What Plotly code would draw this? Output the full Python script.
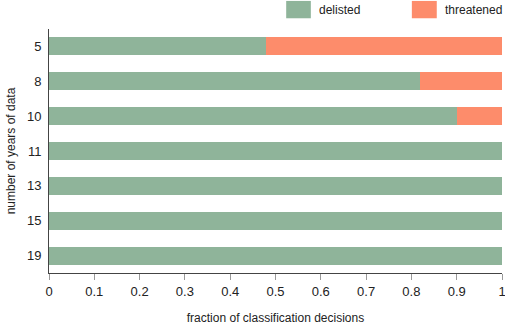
import plotly.graph_objects as go

# Years of data used for each classification run
years = ["5", "8", "10", "11", "13", "15", "19"]
# Fraction of decisions per outcome
delisted = [0.48, 0.82, 0.90, 1.0, 1.0, 1.0, 1.0]
threatened = [0.52, 0.18, 0.10, 0.0, 0.0, 0.0, 0.0]

series_names = ["delisted", "threatened"]
colors = ["#8fb49a", "#fd8c6b"]
x_ticks = [0, 0.1, 0.2, 0.3, 0.4, 0.5, 0.6, 0.7, 0.8, 0.9, 1]

font_family = "Liberation Sans, Arial, sans-serif"

fig = go.Figure()
for name, vals, col in zip(series_names, [delisted, threatened], colors):
    fig.add_trace(go.Bar(
        y=years, x=vals, orientation="h", name=name,
        marker=dict(color=col, line=dict(width=0)),
        width=0.52, showlegend=False,
    ))

# Legend drawn as large swatches with labels
legend_pos = [(0.5236, 0.578, 0.592), (0.801, 0.856, 0.870)]
for (x0, x1, tx), name, col in zip(legend_pos, series_names, colors):
    fig.add_shape(type="rect", xref="paper", yref="paper",
                  x0=x0, x1=x1, y0=1.044, y1=1.115,
                  fillcolor=col, line=dict(width=0))
    fig.add_annotation(xref="paper", yref="paper", x=tx, y=1.078,
                       text=name, showarrow=False, xanchor="left",
                       yanchor="middle",
                       font=dict(family=font_family, size=12, color="#222"))

fig.update_layout(
    width=505, height=327,
    margin=dict(l=48.5, r=3, t=29, b=54),
    barmode="stack",
    plot_bgcolor="white", paper_bgcolor="white",
    font=dict(family=font_family, size=13, color="#222"),
    xaxis=dict(
        range=[0, 1], tickvals=x_ticks,
        ticktext=[f"{v:g}" for v in x_ticks],
        ticklabeloverflow="allow", automargin=False,
        showgrid=False, zeroline=False,
        showline=True, linecolor="#444", linewidth=1,
        ticks="outside", ticklen=6, tickcolor="#999",
        title=dict(text="fraction of classification decisions",
                   font=dict(size=12), standoff=16),
    ),
    yaxis=dict(
        categoryorder="array", categoryarray=years,
        autorange="reversed", automargin=False,
        showgrid=False, zeroline=False,
        showline=True, linecolor="#444", linewidth=1,
        ticks="", ticklabelstandoff=4,
        title=dict(text="number of years of data", font=dict(size=12),
                   standoff=8),
    ),
)

fig.write_html("out.html")
